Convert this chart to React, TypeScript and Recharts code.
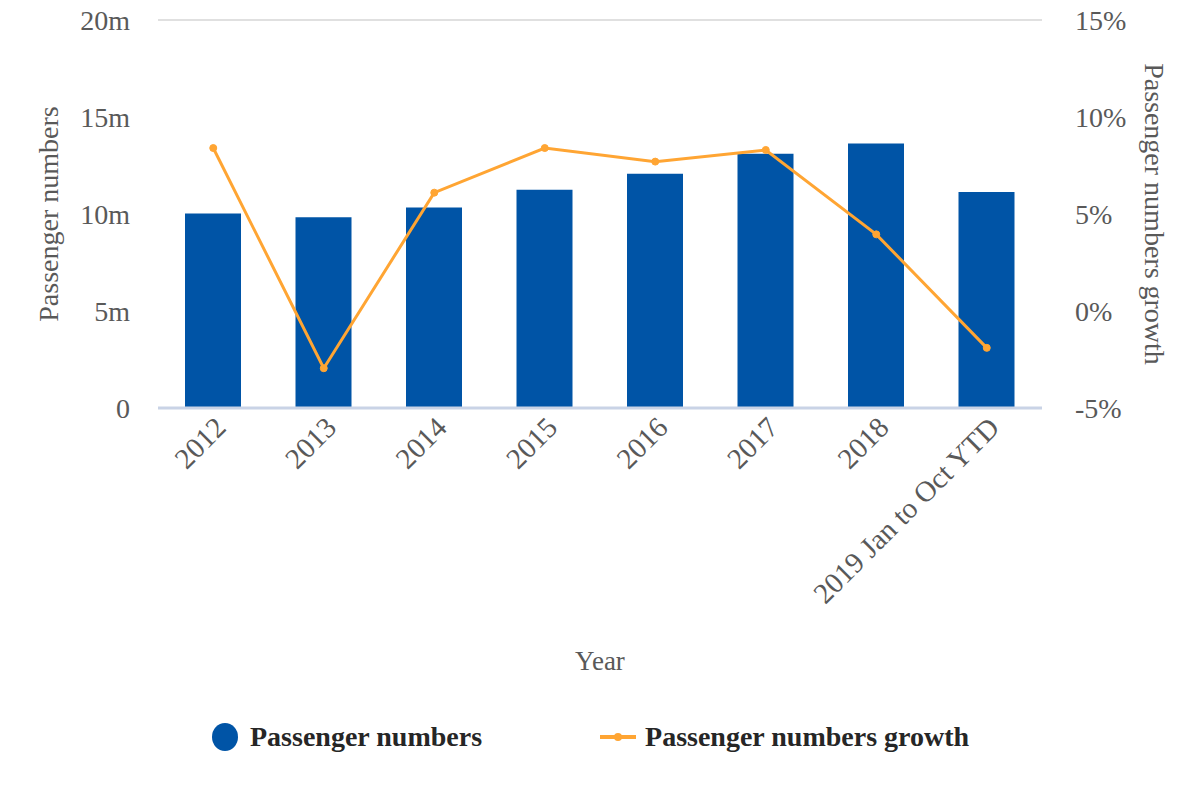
import React from 'react';
import {
  ComposedChart,
  Bar,
  Line,
  XAxis,
  YAxis,
  CartesianGrid,
  Legend,
} from 'recharts';

const years = ['2012', '2013', '2014', '2015', '2016', '2017', '2018', '2019 Jan to Oct YTD'];
const passengers = [10.02, 9.83, 10.33, 11.25, 12.07, 13.1, 13.63, 11.13];
const growth = [8.4, -2.95, 6.1, 8.4, 7.7, 8.3, 3.95, -1.9];
const leftTicks = [0, 5, 10, 15, 20];
const rightTicks = [-5, 0, 5, 10, 15];

const data = years.map((year, i) => ({
  year,
  passengers: passengers[i],
  growth: growth[i],
}));

const FONT = '"Liberation Serif", "Times New Roman", serif';
const GREY = '#595959';
const BLUE = '#0054A6';
const ORANGE = '#FFA533';

const XTick = (props: any) => {
  const { x, y, payload } = props;
  return (
    <g transform={`translate(${x + 8},${y + 7})`}>
      <text
        textAnchor="end"
        transform="rotate(-45)"
        fontSize={29}
        fill={GREY}
        fontFamily={FONT}
        dy={9}
      >
        {payload.value}
      </text>
    </g>
  );
};

const LegendBox = () => (
  <div
    style={{
      height: 100,
      boxSizing: 'border-box',
      paddingBottom: 26,
      display: 'flex',
      alignItems: 'center',
      fontFamily: FONT,
      fontWeight: 'bold',
      fontSize: 28,
      color: '#262626',
    }}
  >
    <svg width={28} height={30} style={{ marginLeft: 211, marginRight: 11 }}>
      <ellipse cx={14} cy={15} rx={13} ry={14} fill={BLUE} />
    </svg>
    <span>Passenger numbers</span>
    <svg width={38} height={12} style={{ marginLeft: 118, marginRight: 7 }}>
      <line x1={0} y1={6} x2={36} y2={6} stroke={ORANGE} strokeWidth={4} />
      <circle cx={18} cy={6} r={4} fill={ORANGE} />
    </svg>
    <span>Passenger numbers growth</span>
  </div>
);

export default function App() {
  return (
    <div style={{ position: 'absolute', left: 0, top: 0, background: '#fff' }}>
      <ComposedChart
        width={1200}
        height={800}
        data={data}
        margin={{ top: 20, right: 0, bottom: 0, left: 0 }}
        barCategoryGap={0}
      >
        <CartesianGrid vertical={false} stroke="#e0e0e0" strokeWidth={2} />
        <XAxis
          dataKey="year"
          height={292}
          interval={0}
          tick={<XTick />}
          tickLine={false}
          axisLine={{ stroke: '#c9d3e6', strokeWidth: 3 }}
          label={{
            value: 'Year',
            position: 'insideBottom',
            offset: 30,
            fill: GREY,
            fontSize: 27,
            fontFamily: FONT,
          }}
        />
        <YAxis
          yAxisId="left"
          width={158}
          domain={[0, 20]}
          ticks={leftTicks}
          tickFormatter={(v: number) => (v === 0 ? '0' : `${v}m`)}
          tick={{ fill: GREY, fontSize: 28, fontFamily: FONT }}
          tickLine={false}
          axisLine={false}
          tickMargin={22}
          label={{
            value: 'Passenger numbers',
            angle: -90,
            position: 'insideLeft',
            offset: 48,
            fill: GREY,
            fontSize: 28,
            fontFamily: FONT,
            style: { textAnchor: 'middle' },
          }}
        />
        <YAxis
          yAxisId="right"
          orientation="right"
          width={158}
          domain={[-5, 15]}
          ticks={rightTicks}
          tickFormatter={(v: number) => `${v}%`}
          tick={{ fill: GREY, fontSize: 28, fontFamily: FONT, textAnchor: 'start' }}
          tickLine={false}
          axisLine={false}
          tickMargin={27}
          label={{
            value: 'Passenger numbers growth',
            angle: 90,
            position: 'insideRight',
            offset: 45,
            fill: GREY,
            fontSize: 28,
            fontFamily: FONT,
            style: { textAnchor: 'middle' },
          }}
        />
        <Bar
          yAxisId="left"
          dataKey="passengers"
          fill={BLUE}
          barSize={56}
          isAnimationActive={false}
        />
        <Line
          yAxisId="right"
          dataKey="growth"
          type="linear"
          stroke={ORANGE}
          strokeWidth={3}
          dot={{ r: 3.5, fill: ORANGE, stroke: ORANGE, strokeWidth: 1 }}
          isAnimationActive={false}
        />
        <Legend verticalAlign="bottom" content={<LegendBox />} />
      </ComposedChart>
    </div>
  );
}
